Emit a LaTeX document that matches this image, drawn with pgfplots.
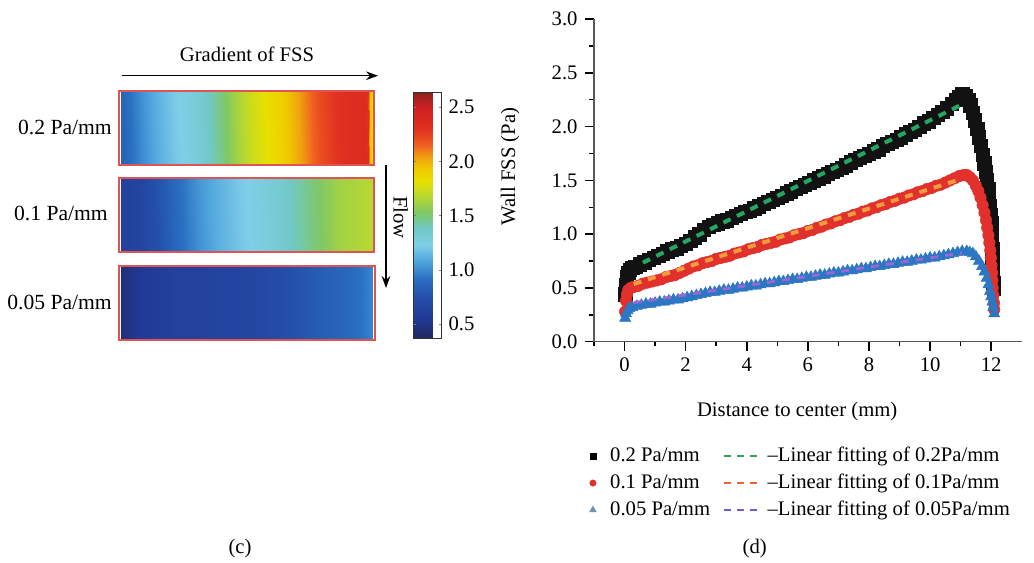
\documentclass[border=0pt]{standalone}
\usepackage{pgfplots}
\pgfplotsset{compat=1.18}
\usepackage{fontspec}
\setmainfont{Liberation Serif}
\usetikzlibrary{arrows.meta}

\definecolor{stripborder}{RGB}{222,84,84}
\definecolor{fss2}{RGB}{18,18,18}
\definecolor{fss1}{RGB}{226,48,44}
\definecolor{fss05}{RGB}{44,118,196}
\definecolor{fit2}{RGB}{34,168,96}
\definecolor{fit1}{RGB}{242,156,60}
\definecolor{fit05}{RGB}{150,105,210}
\definecolor{legtri}{RGB}{110,146,176}
\definecolor{legfit2}{RGB}{60,160,90}
\definecolor{legfit1}{RGB}{230,100,50}
\definecolor{legfit05}{RGB}{120,90,200}

\pgfplotsset{
  /pgf/number format/assume math mode=true,
  colormap={fssmap}{
    rgb255(37pt)=(32,40,96);
    rgb255(55pt)=(34,56,150);
    rgb255(75pt)=(36,80,170);
    rgb255(92pt)=(42,112,194);
    rgb255(108pt)=(80,166,222);
    rgb255(123pt)=(128,206,232);
    rgb255(138pt)=(112,200,196);
    rgb255(153pt)=(128,200,100);
    rgb255(168pt)=(184,216,48);
    rgb255(182pt)=(232,224,0);
    rgb255(194pt)=(240,200,0);
    rgb255(204pt)=(240,160,16);
    rgb255(215pt)=(240,96,32);
    rgb255(230pt)=(224,48,32);
    rgb255(250pt)=(206,32,32);
    rgb255(264pt)=(139,32,32);
  },
  markleg/.style={legend image code/.code={\draw[##1] plot coordinates {(3pt,0pt)};\path (13.75pt,0pt);}},
  dashleg/.style={legend image code/.code={\draw[##1] (0pt,0pt) -- (25pt,0pt);\path (30.25pt,0pt);}},
}

\begin{document}
\fontsize{15.5}{18.5}\selectfont
\begin{tikzpicture}
\path[use as bounding box] (0,0) rectangle (775.5pt,421.5pt);

% ---------- (c): FSS maps of the three channels ----------
\begin{axis}[
  at={(89.25pt,166.5pt)}, anchor=south west,
  view={0}{90},
  scale only axis, width=192pt, height=186.75pt,
  xmin=119, xmax=375, ymin=222, ymax=471, zmin=-1, zmax=1,
  hide axis, clip=false,
  colormap name=fssmap,
  point meta min=0.37, point meta max=2.64,
  colorbar,
  colorbar style={
    at={(parent axis.north east)}, anchor=north west,
    xshift=20.25pt, yshift=-0.75pt,
    width=21pt, height=184.5pt,
    ytick={0.5,1,1.5,2,2.5},
    yticklabel style={/pgf/number format/fixed, /pgf/number format/fixed zerofill,
      /pgf/number format/precision=1},
    major tick length=2pt,
    axis line style={draw=black!80},
  },
]
% 0.2 Pa/mm
\addplot3[surf, shader=interp, point meta=\thisrow{c}] table {
x y z c
121 398 0 0.85
132 398 0 0.92
145 398 0 1.02
160 398 0 1.12
175 398 0 1.20
190 398 0 1.26
205 398 0 1.34
220 398 0 1.46
235 398 0 1.60
250 398 0 1.72
265 398 0 1.80
280 398 0 1.88
294 398 0 1.98
306 398 0 2.08
320 398 0 2.20
335 398 0 2.28
352 398 0 2.33
365 398 0 2.35
368 398 0 2.30
370 398 0 1.95
372 398 0 1.85

121 470 0 0.85
132 470 0 0.94
145 470 0 1.04
160 470 0 1.14
175 470 0 1.22
190 470 0 1.27
205 470 0 1.35
220 470 0 1.48
235 470 0 1.62
250 470 0 1.74
265 470 0 1.82
280 470 0 1.90
294 470 0 2.00
306 470 0 2.10
320 470 0 2.22
335 470 0 2.29
352 470 0 2.33
365 470 0 2.35
368 470 0 2.30
370 470 0 1.95
372 470 0 1.85
};
% 0.1 Pa/mm
\addplot3[surf, shader=interp, point meta=\thisrow{c}] table {
x y z c
121 311 0 0.62
140 311 0 0.66
160 311 0 0.76
180 311 0 0.90
200 311 0 1.02
220 311 0 1.12
240 311 0 1.20
260 311 0 1.26
280 311 0 1.32
300 311 0 1.42
320 311 0 1.52
340 311 0 1.62
360 311 0 1.66
372 311 0 1.68

121 383 0 0.62
140 383 0 0.66
160 383 0 0.78
180 383 0 0.92
200 383 0 1.04
220 383 0 1.13
240 383 0 1.21
260 383 0 1.27
280 383 0 1.33
300 383 0 1.43
320 383 0 1.53
340 383 0 1.62
360 383 0 1.66
372 383 0 1.68
};
% 0.05 Pa/mm
\addplot3[surf, shader=interp, point meta=\thisrow{c}] table {
x y z c
121 223 0 0.45
140 223 0 0.56
170 223 0 0.62
210 223 0 0.64
250 223 0 0.67
280 223 0 0.72
310 223 0 0.80
340 223 0 0.86
360 223 0 0.92
372 223 0 0.98

121 295 0 0.45
140 295 0 0.56
170 295 0 0.62
210 295 0 0.64
250 295 0 0.67
280 295 0 0.72
310 295 0 0.80
340 295 0 0.86
360 295 0 0.92
372 295 0 0.98
};
\draw[stripborder, line width=1.1pt] (axis cs:119,397,0) rectangle (axis cs:374,471,0);
\draw[stripborder, line width=1.1pt] (axis cs:119,310,0) rectangle (axis cs:374,384,0);
\draw[stripborder, line width=1.1pt] (axis cs:119,222,0) rectangle (axis cs:375,296,0);
\end{axis}

\node at (185.25pt,381pt) {Gradient of FSS};
\draw[line width=0.9pt, -{Stealth[length=9pt,width=6.5pt]}] (91.5pt,364.7pt) -- (283.5pt,364.7pt);
\begin{scope}[font=\fontsize{16.2}{19}\selectfont]
\node[anchor=east, inner sep=0pt] at (84pt,326.25pt) {0.2 Pa/mm};
\node[anchor=east, inner sep=0pt] at (81pt,261.75pt) {0.1 Pa/mm};
\node[anchor=east, inner sep=0pt] at (84pt,195pt) {0.05 Pa/mm};
\end{scope}
\draw[line width=0.9pt, -{Stealth[length=9pt,width=6.5pt]}] (289.5pt,297.75pt) -- (289.5pt,205.5pt);
\node[rotate=-90] at (300.5pt,258.5pt) {Flow};
\node at (180pt,9.75pt) {(c)};

% ---------- (d): wall FSS along the channel ----------
\begin{axis}[
  at={(445.5pt,165.2pt)}, anchor=south west,
  scale only axis, width=320.8pt, height=242pt,
  xmin=-1, xmax=13, ymin=0, ymax=3,
  axis lines=left,
  axis line style={-, line width=1.1pt, draw=black!65},
  tick align=outside,
  major tick length=7pt, minor tick length=3.5pt,
  tick style={line width=1.1pt, black},
  xtick={0,2,...,12}, minor xtick={-1,1,3,5,7,9,11},
  ytick={0,0.5,...,3}, minor ytick={0.25,0.75,...,2.75},
  yticklabel style={/pgf/number format/fixed, /pgf/number format/fixed zerofill,
    /pgf/number format/precision=1},
  xlabel={Distance to center (mm)},
  ylabel={Wall FSS (Pa)},
  every axis x label/.style={at={(rel axis cs:0.475,-0.217)}, anchor=center},
  every axis y label/.style={at={(rel axis cs:-0.196,0.543)}, rotate=90, anchor=center},
  clip=false, clip marker paths=true,
  legend columns=2,
  legend cell align=left,
  legend style={at={(rel axis cs:-0.02,-0.31)}, anchor=north west,
    draw=none, fill=none,
    /tikz/every even column/.append style={column sep=7.75pt},
    row sep=2.9pt},
]
\addlegendimage{only marks, mark=square*, mark size=2.2pt, black, markleg}
\addlegendentry{0.2 Pa/mm}
\addlegendimage{legfit2, line width=1.1pt, dash pattern=on 5.25pt off 4.5pt, dashleg}
\addlegendentry{\textendash Linear fitting of 0.2Pa/mm}
\addlegendimage{only marks, mark=*, mark size=2.4pt, fss1, markleg}
\addlegendentry{0.1 Pa/mm}
\addlegendimage{legfit1, line width=1.1pt, dash pattern=on 5.25pt off 4.5pt, dashleg}
\addlegendentry{\textendash Linear fitting of 0.1Pa/mm}
\addlegendimage{only marks, mark=triangle*, mark size=2.8pt, legtri, markleg}
\addlegendentry{0.05 Pa/mm}
\addlegendimage{legfit05, line width=1.1pt, dash pattern=on 5.25pt off 4.5pt, dashleg}
\addlegendentry{\textendash Linear fitting of 0.05Pa/mm}

% 0.2 Pa/mm
\addplot[only marks, mark=square*, mark size=5pt, fss2, forget plot] table {
x y
0.02 0.44
0.05 0.53
0.08 0.60
0.12 0.64
0.18 0.67
0.25 0.69
0.35 0.70
0.50 0.72
0.65 0.74
0.80 0.76
0.95 0.78
1.10 0.80
1.25 0.82
1.40 0.84
1.55 0.86
1.70 0.87
1.85 0.89
2.00 0.91
2.15 0.94
2.30 0.97
2.45 1.00
2.60 1.04
2.75 1.07
2.90 1.09
3.05 1.10
3.20 1.12
3.35 1.13
3.50 1.15
3.65 1.17
3.80 1.19
3.95 1.21
4.10 1.22
4.25 1.24
4.40 1.26
4.55 1.28
4.70 1.30
4.85 1.32
5.00 1.34
5.15 1.36
5.30 1.38
5.45 1.40
5.60 1.42
5.75 1.44
5.90 1.46
6.05 1.48
6.20 1.50
6.35 1.52
6.50 1.54
6.65 1.56
6.80 1.58
6.95 1.60
7.10 1.62
7.25 1.64
7.40 1.67
7.55 1.69
7.70 1.71
7.85 1.73
8.00 1.75
8.15 1.77
8.30 1.79
8.45 1.82
8.60 1.84
8.75 1.86
8.90 1.88
9.05 1.90
9.20 1.93
9.35 1.95
9.50 1.97
9.65 2.00
9.80 2.03
9.95 2.05
10.10 2.08
10.25 2.11
10.40 2.14
10.55 2.17
10.70 2.21
10.85 2.25
10.95 2.28
11.05 2.30
11.15 2.29
11.25 2.25
11.32 2.20
11.40 2.13
11.47 2.06
11.54 1.98
11.60 1.90
11.66 1.82
11.72 1.74
11.77 1.66
11.82 1.58
11.86 1.50
11.90 1.42
11.93 1.34
11.96 1.26
11.98 1.18
12.00 1.10
12.01 1.02
12.02 0.94
12.03 0.86
12.04 0.78
12.05 0.70
12.06 0.62
12.07 0.55
12.08 0.49
};
% 0.1 Pa/mm
\addplot[only marks, mark=*, mark size=4.3pt, fss1, forget plot] table {
x y
0.02 0.28
0.05 0.38
0.08 0.44
0.12 0.48
0.20 0.50
0.30 0.51
0.45 0.52
0.60 0.54
0.75 0.55
0.90 0.56
1.05 0.57
1.20 0.58
1.35 0.60
1.50 0.61
1.65 0.62
1.80 0.64
1.95 0.66
2.10 0.68
2.25 0.70
2.40 0.71
2.55 0.73
2.70 0.74
2.85 0.75
3.00 0.77
3.15 0.78
3.30 0.79
3.45 0.80
3.60 0.82
3.75 0.83
3.90 0.84
4.05 0.86
4.20 0.87
4.35 0.88
4.50 0.90
4.65 0.91
4.80 0.92
4.95 0.93
5.10 0.95
5.25 0.96
5.40 0.97
5.55 0.99
5.70 1.00
5.85 1.01
6.00 1.03
6.15 1.04
6.30 1.06
6.45 1.07
6.60 1.09
6.75 1.10
6.90 1.12
7.05 1.13
7.20 1.15
7.35 1.16
7.50 1.18
7.65 1.19
7.80 1.21
7.95 1.22
8.10 1.24
8.25 1.25
8.40 1.27
8.55 1.28
8.70 1.30
8.85 1.31
9.00 1.33
9.15 1.34
9.30 1.36
9.45 1.37
9.60 1.39
9.75 1.40
9.90 1.42
10.05 1.43
10.20 1.45
10.35 1.46
10.50 1.48
10.65 1.50
10.80 1.52
10.95 1.54
11.10 1.55
11.20 1.55
11.30 1.53
11.40 1.50
11.50 1.45
11.58 1.40
11.65 1.34
11.72 1.27
11.78 1.20
11.83 1.13
11.87 1.06
11.91 0.99
11.94 0.92
11.97 0.85
11.99 0.78
12.01 0.71
12.03 0.64
12.04 0.57
12.05 0.50
12.07 0.43
12.09 0.36
12.10 0.30
};
% 0.05 Pa/mm
\addplot[only marks, mark=triangle*, mark size=4.8pt, fss05, forget plot] table {
x y
0.02 0.22
0.05 0.26
0.10 0.29
0.15 0.31
0.25 0.32
0.40 0.33
0.55 0.34
0.70 0.35
0.85 0.35
1.00 0.36
1.15 0.37
1.30 0.37
1.45 0.38
1.60 0.39
1.75 0.39
1.90 0.40
2.05 0.41
2.20 0.42
2.35 0.43
2.50 0.44
2.65 0.45
2.80 0.46
2.95 0.46
3.10 0.47
3.25 0.48
3.40 0.48
3.55 0.49
3.70 0.50
3.85 0.50
4.00 0.51
4.15 0.52
4.30 0.52
4.45 0.53
4.60 0.54
4.75 0.54
4.90 0.55
5.05 0.56
5.20 0.56
5.35 0.57
5.50 0.58
5.65 0.58
5.80 0.59
5.95 0.60
6.10 0.60
6.25 0.61
6.40 0.62
6.55 0.62
6.70 0.63
6.85 0.64
7.00 0.64
7.15 0.65
7.30 0.66
7.45 0.66
7.60 0.67
7.75 0.68
7.90 0.68
8.05 0.69
8.20 0.70
8.35 0.70
8.50 0.71
8.65 0.72
8.80 0.72
8.95 0.73
9.10 0.74
9.25 0.74
9.40 0.75
9.55 0.76
9.70 0.76
9.85 0.77
10.00 0.78
10.15 0.78
10.30 0.79
10.45 0.80
10.60 0.81
10.75 0.82
10.90 0.83
11.05 0.84
11.20 0.84
11.30 0.83
11.40 0.82
11.50 0.79
11.60 0.75
11.70 0.70
11.78 0.65
11.85 0.59
11.91 0.53
11.96 0.47
12.00 0.42
12.04 0.37
12.07 0.32
12.10 0.26
};
% linear fits
\addplot[fit2, line width=3pt, dash pattern=on 6pt off 5.25pt, forget plot] coordinates {(0.6,0.735) (11.0,2.20)};
\addplot[fit1, line width=3pt, dash pattern=on 6pt off 5.25pt, forget plot] coordinates {(0.3,0.537) (11.05,1.516)};
\addplot[fit05, line width=2.2pt, dash pattern=on 6pt off 5.25pt, forget plot] coordinates {(0.3,0.363) (11.05,0.825)};
\end{axis}
\node at (566pt,9.75pt) {(d)};
\end{tikzpicture}
\end{document}
